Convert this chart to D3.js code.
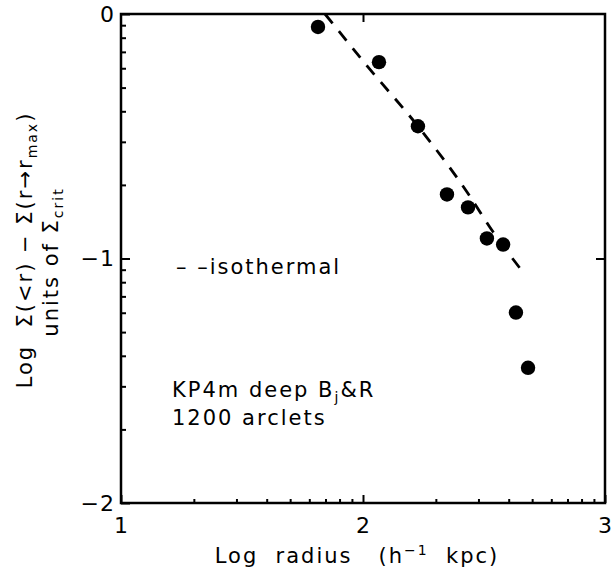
<!DOCTYPE html>
<html lang="en">
<head>
  <meta charset="UTF-8">
  <script src="https://cdn.jsdelivr.net/npm/d3@7"></script>
  <title>Log Sigma vs log radius</title>
  <style>
    body { margin: 0; background: #fff; }
    text { font-family: "DejaVu Sans", sans-serif; fill: #000; white-space: pre; }
    .lab { font-size: 21px; letter-spacing: 2px; }
  </style>
</head>
<body>
  <svg width="612" height="573"></svg>
  <script>
    // data
    var logRadius = [1.814, 2.066, 2.227, 2.347, 2.434, 2.512, 2.579, 2.632, 2.682];
    var logSigma  = [-0.053, -0.197, -0.459, -0.738, -0.791, -0.918, -0.943, -1.221, -1.447];

    // isothermal model curve
    var isoX = [1.843, 2.021, 2.227, 2.434, 2.525, 2.669];
    var isoY = [0.0, -0.217, -0.459, -0.734, -0.873, -1.066];

    var xTicks = [1, 2, 3];
    var yTicks = [0, -1, -2];

    var svg = d3.select("svg");
    var margin = {top: 14, right: 3, bottom: 70, left: 121};
    var height = 573 - margin.top - margin.bottom;  // 489

    var x = d3.scaleLinear().domain([1, 3]).range([0, 484]);
    var y = d3.scaleLinear().domain([0, -2]).range([0, height]);

    var g = svg.append("g").attr("transform", "translate(" + margin.left + "," + margin.top + ")");

    // minor ticks spaced like a log axis
    var xMinor = [], yMinor = [];
    [1, 2].forEach(function(d) {
      for (var k = 2; k <= 9; k++) xMinor.push(d + Math.log10(k));
    });
    [-1, -2].forEach(function(d) {
      for (var k = 2; k <= 9; k++) yMinor.push(d + Math.log10(k));
    });

    // bottom axis
    g.append("g").attr("transform", "translate(0," + height + ")")
      .call(d3.axisBottom(x).tickValues(xMinor).tickSize(-4).tickFormat(""))
      .call(function(s) { s.select(".domain").remove(); });
    g.append("g").attr("transform", "translate(0," + height + ")")
      .call(d3.axisBottom(x).tickValues(xTicks).tickSize(-8).tickFormat(d3.format("d")).tickPadding(14))
      .call(function(s) { s.select(".domain").remove(); });

    // left axis
    g.append("g")
      .call(d3.axisLeft(y).tickValues(yMinor).tickSize(-5).tickFormat(""))
      .call(function(s) { s.select(".domain").remove(); });
    g.append("g")
      .call(d3.axisLeft(y).tickValues(yTicks).tickSizeInner(-9).tickSizeOuter(0)
        .tickFormat(function(d) { return d === 0 ? "0" : "\u2212" + Math.abs(d); }).tickPadding(6))
      .call(function(s) { s.select(".domain").remove(); });

    // top and right major ticks
    g.append("g")
      .call(d3.axisTop(x).tickValues([2]).tickSize(-8).tickFormat(""))
      .call(function(s) { s.select(".domain").remove(); });
    g.append("g").attr("transform", "translate(484,0)")
      .call(d3.axisRight(y).tickValues([-1]).tickSize(-9).tickFormat(""))
      .call(function(s) { s.select(".domain").remove(); });

    g.selectAll(".tick line").attr("stroke", "#000").attr("stroke-width", 2);
    g.selectAll(".tick text").attr("font-size", null).attr("font-family", null)
      .attr("class", "lab").style("font-size", "22px").style("letter-spacing", "1px");

    // frame
    g.append("rect")
      .attr("x", 0).attr("y", 0)
      .attr("width", 484).attr("height", height)
      .attr("fill", "none").attr("stroke", "#000").attr("stroke-width", 2.5);

    // isothermal dashed curve
    var line = d3.line()
      .x(function(d) { return x(d[0]); })
      .y(function(d) { return y(d[1]); })
      .curve(d3.curveMonotoneX);
    g.append("path")
      .datum(d3.zip(isoX, isoY))
      .attr("d", line)
      .attr("fill", "none")
      .attr("stroke", "#000")
      .attr("stroke-width", 2.8)
      .attr("stroke-dasharray", "12,10");

    // data points
    g.selectAll("circle").data(d3.zip(logRadius, logSigma)).enter()
      .append("circle")
      .attr("cx", function(d) { return x(d[0]); })
      .attr("cy", function(d) { return y(d[1]); })
      .attr("r", 7.2)
      .attr("fill", "#000");

    // annotations
    svg.append("text").attr("class", "lab").attr("x", 176).attr("y", 274)
      .text("\u2013 \u2013isothermal");

    var t1 = svg.append("text").attr("class", "lab").attr("x", 172).attr("y", 397);
    t1.append("tspan").text("KP4m deep B");
    t1.append("tspan").attr("dy", 5).style("font-size", "14px").text("j");
    t1.append("tspan").attr("dy", -5).text("&R");

    svg.append("text").attr("class", "lab").attr("x", 172).attr("y", 425)
      .text("1200 arclets");

    // x title
    var xt = svg.append("text").attr("class", "lab").attr("x", 357).attr("y", 563)
      .attr("text-anchor", "middle");
    xt.append("tspan").text("Log  radius   (h");
    xt.append("tspan").attr("dy", -8).style("font-size", "14px").text("\u22121");
    xt.append("tspan").attr("dy", 8).text("  kpc)");

    // y title, two lines
    var yt1 = svg.append("text").attr("class", "lab")
      .attr("transform", "translate(32,250) rotate(-90)")
      .attr("text-anchor", "middle");
    yt1.append("tspan").text("Log  \u03A3(<r) \u2212 \u03A3(r\u2192r");
    yt1.append("tspan").attr("dy", 5).style("font-size", "14px").text("max");
    yt1.append("tspan").attr("dy", -5).text(")");

    var yt2 = svg.append("text").attr("class", "lab")
      .attr("transform", "translate(58,262) rotate(-90)")
      .attr("text-anchor", "middle");
    yt2.append("tspan").text("units of \u03A3");
    yt2.append("tspan").attr("dy", 5).style("font-size", "14px").text("crit");
  </script>
</body>
</html>
